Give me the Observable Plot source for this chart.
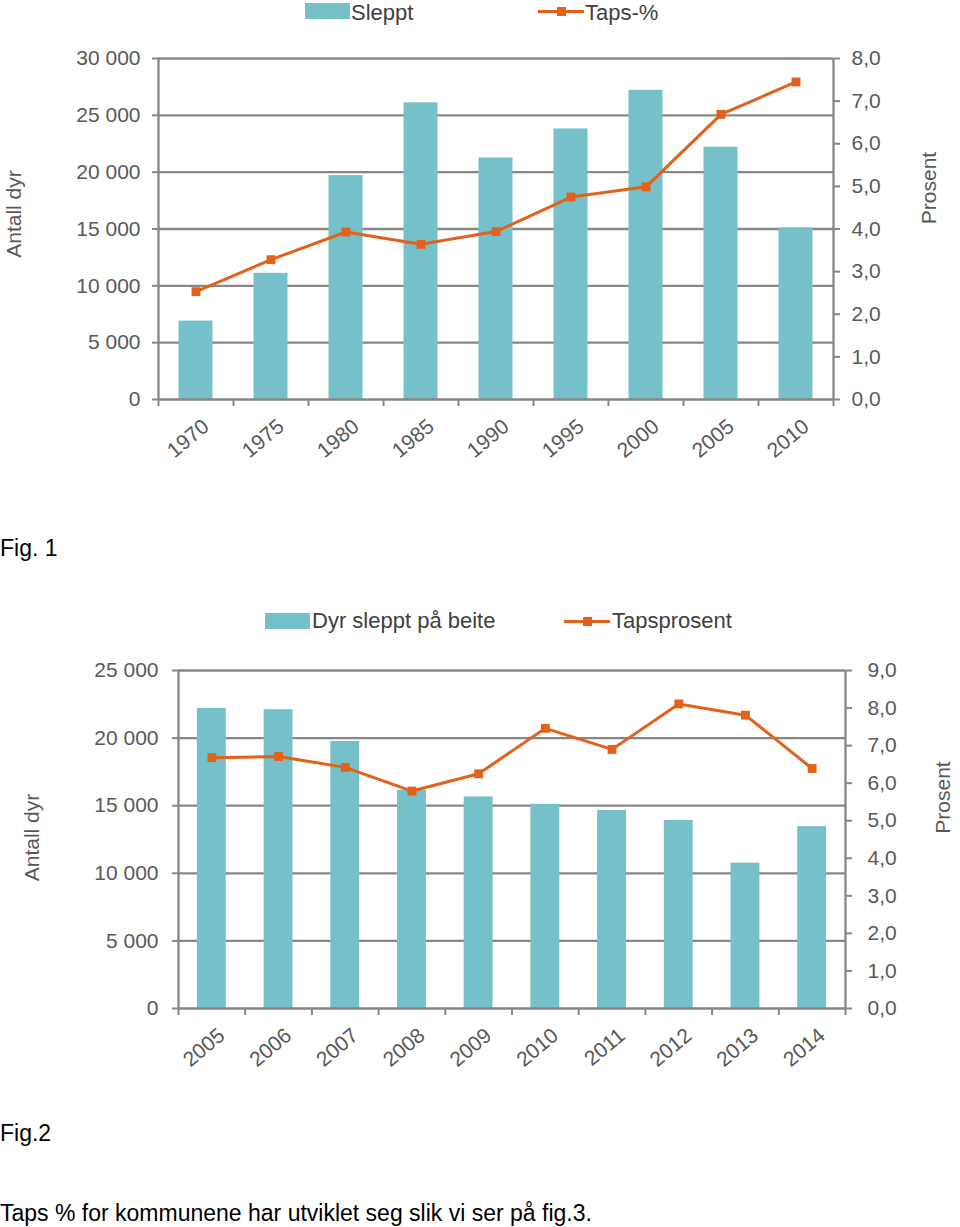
<!DOCTYPE html>
<html>
<head>
<meta charset="utf-8">
<script src="https://cdn.jsdelivr.net/npm/d3@7"></script>
<script src="https://cdn.jsdelivr.net/npm/@observablehq/plot@0.6"></script>
<style>
  html, body { margin: 0; padding: 0; background: #fff; }
  #page { position: relative; width: 960px; height: 1227px; font-family: "Liberation Sans", Arial, sans-serif; overflow: hidden; }
  .abs { position: absolute; white-space: nowrap; }
  .legtext { font-size: 22px; color: #404040; line-height: 26px; }
  .swatch { position: absolute; background: #76c0c9; }
  .lline { position: absolute; height: 3px; background: #e2611b; }
  .lmark { position: absolute; width: 9px; height: 9px; background: #e2611b; }
  .fig { font-size: 23px; color: #000; line-height: 22px; }
</style>
</head>
<body>
<div id="page"></div>
<script>
// ---------- Data ----------
const years1 = ["1970", "1975", "1980", "1985", "1990", "1995", "2000", "2005", "2010"];
const sleppt1 = [6900, 11100, 19700, 26100, 21250, 23800, 27200, 22200, 15100];
const taps1 = [2.53, 3.28, 3.93, 3.64, 3.94, 4.75, 4.99, 6.69, 7.45];
const countTicks1 = [0, 5000, 10000, 15000, 20000, 25000, 30000];
const pctTicks1 = [0, 1, 2, 3, 4, 5, 6, 7, 8];

const years2 = ["2005", "2006", "2007", "2008", "2009", "2010", "2011", "2012", "2013", "2014"];
const sleppt2 = [22200, 22100, 19750, 16150, 15650, 15100, 14650, 13900, 10750, 13450];
const taps2 = [6.68, 6.71, 6.42, 5.79, 6.25, 7.46, 6.90, 8.11, 7.81, 6.39];
const countTicks2 = [0, 5000, 10000, 15000, 20000, 25000];
const pctTicks2 = [0, 1, 2, 3, 4, 5, 6, 7, 8, 9];

const legend1 = ["Sleppt", "Taps-%"];
const legend2 = ["Dyr sleppt på beite", "Tapsprosent"];
const yLabel = "Antall dyr";
const y2Label = "Prosent";

// ---------- Styles ----------
const BAR = "#76c0c9";
const LINE = "#e2611b";
const GRID = "#878787";
const TEXT = "#595959";
const FONT = "'Liberation Sans', Arial, sans-serif";

const fmtCount = d => d3.format(",")(d).replace(/,/g, " ");

function makeChart(o) {
  const n = o.years.length;
  const k = o.countMax / o.pctMax;
  const data = o.years.map((y, i) => ({i, year: y, count: o.counts[i], pct: o.pcts[i]}));
  return Plot.plot({
    width: 960,
    height: o.height,
    marginTop: o.mt, marginBottom: o.mb, marginLeft: o.ml, marginRight: o.mr,
    style: {fontFamily: FONT, fontSize: "21px", color: TEXT, background: "transparent"},
    x: {domain: [-0.5, n - 0.5]},
    y: {domain: [0, o.countMax]},
    marks: [
      Plot.ruleY(o.countTicks.slice(1), {stroke: GRID, strokeWidth: 2.3}),
      Plot.rectY(data, {x1: d => d.i - 0.5, x2: d => d.i + 0.5, y: "count", fill: BAR,
        insetLeft: o.inset, insetRight: o.inset}),
      Plot.ruleX([-0.5, n - 0.5], {stroke: GRID, strokeWidth: 2.3}),
      Plot.ruleY([0], {stroke: GRID, strokeWidth: 2.3}),
      Plot.axisY({ticks: o.countTicks, tickFormat: fmtCount, tickSize: 6, tickPadding: o.lpad,
        stroke: GRID, strokeWidth: 2, fill: TEXT, label: null, fontSize: 21}),
      Plot.axisY({anchor: "right", ticks: o.pctTicks.map(p => p * k),
        tickFormat: v => (v / k).toFixed(1).replace(".", ","), tickSize: 6, tickPadding: o.rpad,
        stroke: GRID, strokeWidth: 2, fill: TEXT, label: null, fontSize: 21}),
      Plot.axisX({ticks: d3.range(n + 1).map(i => i - 0.5), tickFormat: () => "", tickSize: 7,
        stroke: GRID, strokeWidth: 2, label: null}),
      Plot.axisX({ticks: d3.range(n), tickFormat: i => o.years[i], tickSize: 0, tickPadding: o.xpad,
        tickRotate: -40, dx: o.xdx, fill: TEXT, label: null, fontSize: 21}),
      Plot.line(data, {x: "i", y: d => d.pct * k, stroke: LINE, strokeWidth: 3}),
      Plot.dot(data, {x: "i", y: d => d.pct * k, symbol: "square", r: 5, fill: LINE}),
      Plot.text([yLabel], {frameAnchor: "left", textAnchor: "middle", rotate: -90, dx: -o.ylabOff, dy: o.ylabDy,
        fontSize: 21, fill: TEXT}),
      Plot.text([y2Label], {frameAnchor: "right", textAnchor: "middle", rotate: -90, dx: o.y2labOff, dy: o.y2labDy,
        fontSize: 21, fill: TEXT})
    ]
  });
}

const page = document.getElementById("page");

function place(el, left, top) {
  el.style.position = "absolute";
  el.style.left = left + "px";
  el.style.top = top + "px";
  page.appendChild(el);
}

function addText(text, cls, left, top) {
  const d = document.createElement("div");
  d.className = "abs " + cls;
  d.textContent = text;
  place(d, left, top);
}

// legend text: line-height 26px, font 22px -> baseline sits ~20.6px below box top
function addLegend(labels, cy, baseline, sx, tx, lx, ltx) {
  const sw = document.createElement("div");
  sw.className = "swatch";
  sw.style.width = "45px"; sw.style.height = "16px";
  place(sw, sx, cy - 8);
  addText(labels[0], "legtext", tx, baseline - 20.6);
  const ln = document.createElement("div");
  ln.className = "lline"; ln.style.width = "46px";
  place(ln, lx, cy - 1.5);
  const mk = document.createElement("div");
  mk.className = "lmark";
  place(mk, lx + 18.5, cy - 4.5);
  addText(labels[1], "legtext", ltx, baseline - 20.6);
}

// Figure 1
const c1 = makeChart({years: years1, counts: sleppt1, pcts: taps1, countMax: 30000, pctMax: 8,
  countTicks: countTicks1, pctTicks: pctTicks1,
  height: 450, mt: 28, mb: 81, ml: 158, mr: 127, inset: 20.5,
  lpad: 12, rpad: 12, xpad: 24, xdx: 10,
  ylabOff: 144, ylabDy: -15, y2labOff: 96, y2labDy: -41});
place(c1, 0, 30);
addLegend(legend1, 11, 21, 305, 351, 538, 585);
addText("Fig. 1", "fig", 0, 537);

// Figure 2
const c2 = makeChart({years: years2, counts: sleppt2, pcts: taps2, countMax: 25000, pctMax: 9,
  countTicks: countTicks2, pctTicks: pctTicks2,
  height: 450, mt: 30, mb: 82, ml: 178, mr: 115, inset: 18.9,
  lpad: 14, rpad: 16, xpad: 24, xdx: 10,
  ylabOff: 146, ylabDy: -2, y2labOff: 98, y2labDy: -42});
place(c2, 0, 640);
addLegend(legend2, 621, 628.5, 265, 312, 564, 612);
addText("Fig.2", "fig", 0, 1122);
addText("Taps % for kommunene har utviklet seg slik vi ser på fig.3.", "fig", 0, 1202);
</script>
</body>
</html>
